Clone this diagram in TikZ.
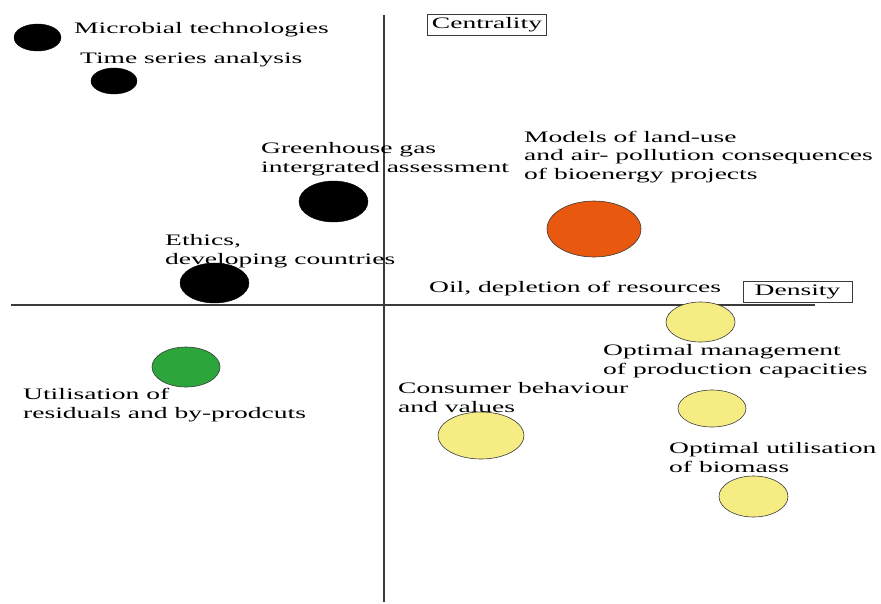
\documentclass[tikz,border=0pt]{standalone}
\usepackage{fontspec}
\setmainfont{Liberation Serif}[FakeStretch=1.72]
\usetikzlibrary{shapes.geometric}
\definecolor{clusterorange}{HTML}{E8580F}
\definecolor{clustergreen}{HTML}{2CA53A}
\definecolor{clusteryellow}{HTML}{F5EC83}
\definecolor{axisgrey}{HTML}{3A3A3A}
\tikzset{
  theme/.style={ellipse, inner sep=0pt, draw=axisgrey, line width=0.6pt,
    minimum width=2*#1},
  blackdot/.style={ellipse, inner sep=0pt, fill=black, draw=black},
  label/.style={anchor=base west, inner sep=0pt, align=left,
    font=\fontsize{16}{18.5}\selectfont},
  axisname/.style={draw=axisgrey, line width=0.8pt, inner sep=2.5pt,
    font=\fontsize{16}{18.5}\selectfont},
  axisline/.style={draw=axisgrey, line width=1.2pt}
}
\begin{document}
\begin{tikzpicture}[x=1pt, y=-1pt]
\useasboundingbox (0,0) rectangle (881,603);

% axes
\coordinate (vtop) at (384,15);
\coordinate (vbot) at (384,602);
\coordinate (hleft) at (11,305);
\coordinate (hright) at (815,305);
\draw[axisline] (vtop) -- (vbot);
\draw[axisline] (hleft) -- (hright);
\node[axisname, minimum width=119pt, minimum height=21pt] (central) at (487,24.5) {Centrality};
\node[axisname, minimum width=109pt, minimum height=21pt] (dens) at (797.5,291.5) {Density};

% theme bubbles
\node[blackdot, minimum width=47pt, minimum height=27pt] (microbial) at (37.5,37.5) {};
\node[blackdot, minimum width=46pt, minimum height=26pt] (timeser) at (114,81) {};
\node[blackdot, minimum width=69pt, minimum height=41pt] (ghg) at (333.5,201.5) {};
\node[blackdot, minimum width=69pt, minimum height=40pt] (ethics) at (214.5,283) {};
\node[theme=47pt, fill=clusterorange, minimum height=56pt] (landuse) at (594,229) {};
\node[theme=34pt, fill=clustergreen, minimum height=40pt] (residuals) at (186,367) {};
\node[theme=34.5pt, fill=clusteryellow, minimum height=40pt] (oil) at (700.5,322) {};
\node[theme=34pt, fill=clusteryellow, minimum height=37pt] (capacity) at (712,408.5) {};
\node[theme=43pt, fill=clusteryellow, minimum height=47pt] (consumer) at (481,435.5) {};
\node[theme=34.5pt, fill=clusteryellow, minimum height=41pt] (biomass) at (753.5,496.5) {};

% theme labels (anchored at the baseline of their last line)
\node[label] (microbialtxt) at (74,33) {Microbial technologies};
\node[label] (timesertxt) at (80,63) {Time series analysis};
\node[label] (ghgtxt) at (261,172) {Greenhouse gas\\intergrated assessment};
\node[label] (ethicstxt) at (165,264) {Ethics,\\developing countries};
\node[label] (landusetxt) at (524,179) {Models of land-use\\and air- pollution consequences\\of bioenergy projects};
\node[label] (oiltxt) at (429,292) {Oil, depletion of resources};
\node[label] (residualstxt) at (23,418) {Utilisation of\\residuals and by-prodcuts};
\node[label] (consumertxt) at (398,412) {Consumer behaviour\\and values};
\node[label] (capacitytxt) at (603,374) {Optimal management\\of production capacities};
\node[label] (biomasstxt) at (669,472) {Optimal utilisation\\of biomass};
\end{tikzpicture}
\end{document}
